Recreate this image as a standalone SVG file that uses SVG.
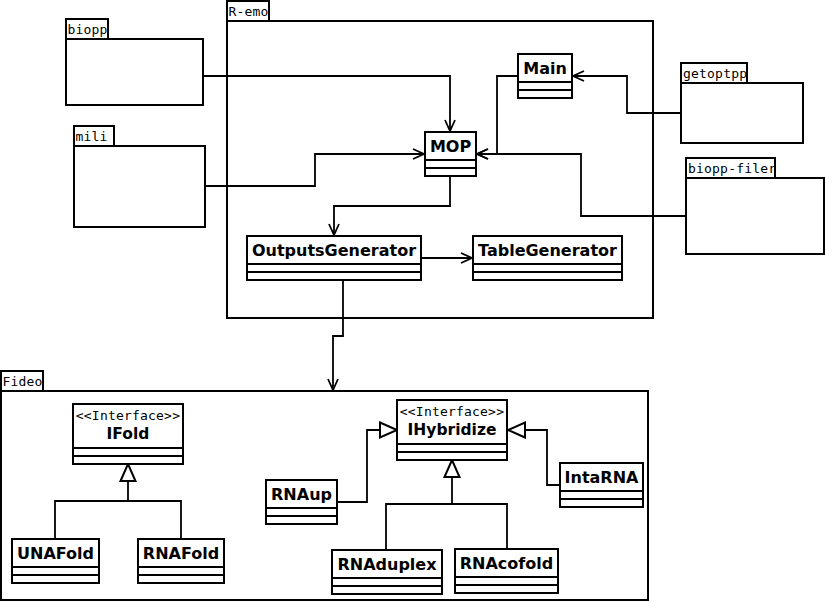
<svg xmlns="http://www.w3.org/2000/svg" width="825" height="602" viewBox="0 0 825 602">
<style>
.box{fill:#fff;stroke:#000;stroke-width:2}
.sep{stroke:#000;stroke-width:2;fill:none}
.con{fill:none;stroke:#000;stroke-width:1.8}
.name{font-family:"DejaVu Sans",sans-serif;font-weight:bold;font-size:16px;text-anchor:middle;fill:#000}
.iname{font-family:"DejaVu Sans",sans-serif;font-weight:bold;font-size:15.5px;text-anchor:middle;fill:#000}
.mono{font-family:"DejaVu Sans Mono",monospace;font-size:13px;letter-spacing:0.2px;fill:#000}
.stereo{font-family:"DejaVu Sans Mono",monospace;font-size:13px;letter-spacing:0.2px;text-anchor:middle;fill:#000}
</style>
<defs>
<marker id="open" markerUnits="userSpaceOnUse" markerWidth="14" markerHeight="14" refX="12" refY="6" orient="auto" overflow="visible">
<path d="M1,1 L12,6 L1,11" fill="none" stroke="#000" stroke-width="1.8"/>
</marker>
<marker id="tri" markerUnits="userSpaceOnUse" markerWidth="22" markerHeight="22" refX="18" refY="8.5" orient="auto" overflow="visible">
<path d="M1,1 L18,8.5 L1,16 Z" fill="#fff" stroke="#000" stroke-width="2"/>
</marker>
<clipPath id="c-remo"><rect x="227" y="1" width="42" height="20"/></clipPath>
<clipPath id="c-fideo"><rect x="1" y="371" width="42" height="20"/></clipPath>
<clipPath id="c-biopp"><rect x="66" y="19" width="42" height="20"/></clipPath>
<clipPath id="c-mili"><rect x="74" y="126" width="40" height="20"/></clipPath>
<clipPath id="c-getoptpp"><rect x="681" y="63" width="66" height="20"/></clipPath>
<clipPath id="c-bioppfiler"><rect x="686" y="158" width="89" height="20"/></clipPath>
</defs>

<g id="pkg-R-emo">
<rect class="box" x="227" y="1" width="42" height="20"/>
<rect class="box" x="227" y="21" width="426" height="297"/>
<text class="mono" x="228.5" y="16" clip-path="url(#c-remo)">R-emo</text>
</g>
<g id="pkg-Fideo">
<rect class="box" x="1" y="371" width="42" height="20"/>
<rect class="box" x="1" y="391" width="647" height="209"/>
<text class="mono" x="2.5" y="386" clip-path="url(#c-fideo)">Fideo</text>
</g>
<g id="pkg-biopp">
<rect class="box" x="66" y="19" width="42" height="20"/>
<rect class="box" x="66" y="39" width="137" height="66"/>
<text class="mono" x="67.5" y="34" clip-path="url(#c-biopp)">biopp</text>
</g>
<g id="pkg-mili">
<rect class="box" x="74" y="126" width="40" height="20"/>
<rect class="box" x="74" y="146" width="131" height="81"/>
<text class="mono" x="75.5" y="141" clip-path="url(#c-mili)">mili</text>
</g>
<g id="pkg-getoptpp">
<rect class="box" x="681" y="63" width="66" height="20"/>
<rect class="box" x="681" y="83" width="122" height="60"/>
<text class="mono" x="683" y="78" clip-path="url(#c-getoptpp)">getoptpp</text>
</g>
<g id="pkg-biopp-filer">
<rect class="box" x="686" y="158" width="89" height="20"/>
<rect class="box" x="686" y="178" width="138" height="76"/>
<text class="mono" x="688" y="173" clip-path="url(#c-bioppfiler)">biopp-filer</text>
</g>

<g id="connectors">
<path class="con" d="M203,76 H450 V131" marker-end="url(#open)"/>
<path class="con" d="M205,186 H315 V154 H424" marker-end="url(#open)"/>
<path class="con" d="M518,76 H497 V154 H477" marker-end="url(#open)"/>
<path class="con" d="M686,216 H581 V154 H477" marker-end="url(#open)"/>
<path class="con" d="M681,113 H627 V76 H573" marker-end="url(#open)"/>
<path class="con" d="M450,176 V206 H334 V235" marker-end="url(#open)"/>
<path class="con" d="M421,258 H472" marker-end="url(#open)"/>
<path class="con" d="M343,280 V336 H333 V390" marker-end="url(#open)"/>
<path class="con" d="M55,539 V501 H181 V539"/>
<path class="con" d="M128,501 V464" marker-end="url(#tri)"/>
<path class="con" d="M386,550 V504 H507 V549"/>
<path class="con" d="M452,504 V460" marker-end="url(#tri)"/>
<path class="con" d="M337,502 H367 V430 H397" marker-end="url(#tri)"/>
<path class="con" d="M560,485 H547 V430 H508" marker-end="url(#tri)"/>
</g>

<g id="cls-Main">
<rect class="box" x="518" y="54" width="54" height="44"/>
<path class="sep" d="M518,82 H572 M518,90 H572"/>
<text class="name" x="545" y="74">Main</text>
</g>
<g id="cls-MOP">
<rect class="box" x="425" y="132" width="51" height="44"/>
<path class="sep" d="M425,160 H476 M425,168 H476"/>
<text class="name" x="450.5" y="152">MOP</text>
</g>
<g id="cls-OutputsGenerator">
<rect class="box" x="247" y="236" width="174" height="44"/>
<path class="sep" d="M247,264 H421 M247,272 H421"/>
<text class="name" x="334" y="256">OutputsGenerator</text>
</g>
<g id="cls-TableGenerator">
<rect class="box" x="473" y="236" width="149" height="44"/>
<path class="sep" d="M473,264 H622 M473,272 H622"/>
<text class="name" x="547.5" y="256">TableGenerator</text>
</g>
<g id="cls-IFold">
<rect class="box" x="73" y="404" width="110" height="60"/>
<path class="sep" d="M73,448 H183 M73,456 H183"/>
<text class="stereo" x="128" y="420">&lt;&lt;Interface&gt;&gt;</text>
<text class="iname" x="128" y="439">IFold</text>
</g>
<g id="cls-IHybridize">
<rect class="box" x="397" y="400" width="110" height="60"/>
<path class="sep" d="M397,444 H507 M397,452 H507"/>
<text class="stereo" x="452" y="416">&lt;&lt;Interface&gt;&gt;</text>
<text class="iname" x="452" y="435">IHybridize</text>
</g>
<g id="cls-RNAup">
<rect class="box" x="266" y="480" width="71" height="44"/>
<path class="sep" d="M266,508 H337 M266,516 H337"/>
<text class="name" x="301.5" y="500">RNAup</text>
</g>
<g id="cls-IntaRNA">
<rect class="box" x="560" y="463" width="83" height="44"/>
<path class="sep" d="M560,491 H643 M560,499 H643"/>
<text class="name" x="601.5" y="483">IntaRNA</text>
</g>
<g id="cls-UNAFold">
<rect class="box" x="12" y="539" width="87" height="44"/>
<path class="sep" d="M12,567 H99 M12,575 H99"/>
<text class="name" x="55.5" y="559">UNAFold</text>
</g>
<g id="cls-RNAFold">
<rect class="box" x="138" y="539" width="86" height="44"/>
<path class="sep" d="M138,567 H224 M138,575 H224"/>
<text class="name" x="181" y="559">RNAFold</text>
</g>
<g id="cls-RNAduplex">
<rect class="box" x="332" y="550" width="110" height="44"/>
<path class="sep" d="M332,578 H442 M332,586 H442"/>
<text class="name" x="387" y="570">RNAduplex</text>
</g>
<g id="cls-RNAcofold">
<rect class="box" x="455" y="549" width="103" height="44"/>
<path class="sep" d="M455,577 H558 M455,585 H558"/>
<text class="name" x="506.5" y="569">RNAcofold</text>
</g>
</svg>
